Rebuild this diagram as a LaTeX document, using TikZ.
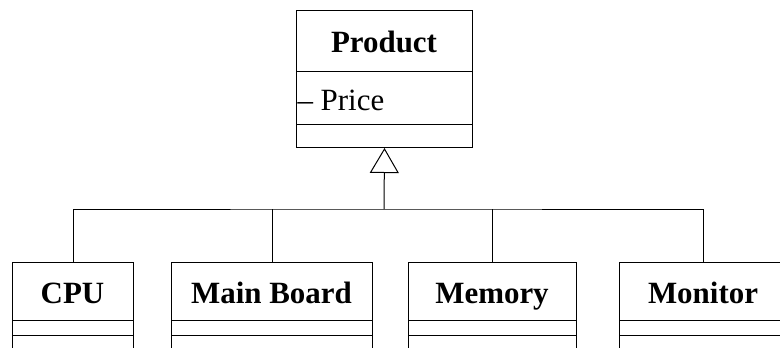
\documentclass[tikz,border=0pt]{standalone}
\usepackage{fontspec}
\setmainfont{Liberation Serif}
\usetikzlibrary{arrows.meta}
\begin{document}
\begin{tikzpicture}[x=0.75pt,y=-0.75pt,line width=0.75pt,
  box/.style={draw,rectangle,inner sep=0pt,anchor=north west,line width=0.75pt},
  title/.style={anchor=base,inner sep=0pt,font=\fontsize{23.2}{27}\selectfont\bfseries},
  attr/.style={anchor=base west,inner sep=0pt,font=\fontsize{23.2}{27}\selectfont},
  inherit/.style={-{Triangle[open,length=18.75pt,width=21.75pt,line width=0.75pt]}}]
\useasboundingbox (0,0) rectangle (780,347);
\clip (0,0) rectangle (780,347);
% Product
\node[box,minimum width=132pt,minimum height=102.75pt] (prod) at (296,10) {};
\draw (296,71) -- (472,71);
\draw (296,124) -- (472,124);
\node[title] (prodt) at (384,52) {Product};
\node[attr] (price) at (297,110) {– Price};
% children
\node[box,minimum width=90.75pt,minimum height=120pt] (cpu) at (12,262) {};
\node[box,minimum width=150.75pt,minimum height=120pt] (mb) at (171,262) {};
\node[box,minimum width=126pt,minimum height=120pt] (mem) at (408,262) {};
\node[box,minimum width=126pt,minimum height=120pt] (mon) at (619,262) {};
\foreach \l/\r in {12/133,171/372,408/576,619/787}{
  \draw (\l,320) -- (\r,320);
  \draw (\l,335) -- (\r,335);
}
\node[title] (cput) at (72.5,303) {CPU};
\node[title] (mbt) at (271.5,303) {Main Board};
\node[title] (memt) at (492,303) {Memory};
\node[title] (mont) at (703,303) {Monitor};
% connectors
\coordinate (bus) at (384,209);
\draw (cpu.north) |- (bus) -| (mon.north);
\draw (mb.north) -- (mb.north |- bus);
\draw (mem.north) -- (mem.north |- bus);
\draw[inherit] (bus) -- (prod.south);
\end{tikzpicture}
\end{document}
